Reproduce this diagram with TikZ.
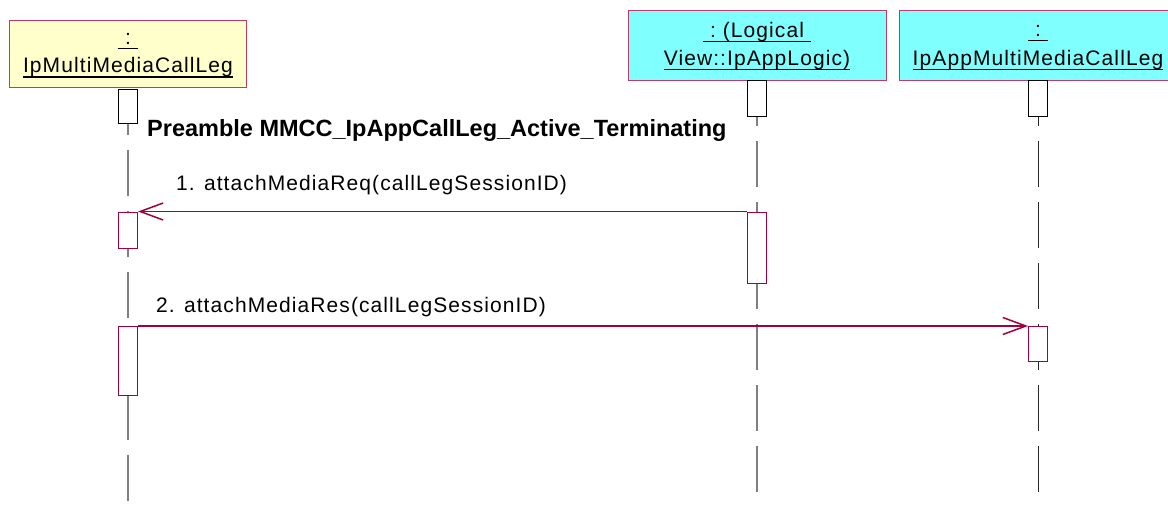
\documentclass[tikz,border=0pt]{standalone}
\usepackage{fontspec}
\setmainfont{Liberation Sans}[LetterSpace=5.2]
\newfontfamily\prefont{Liberation Sans}[LetterSpace=0]
\usetikzlibrary{arrows.meta}
\definecolor{boxborder}{RGB}{190,60,100}
\definecolor{objyellow}{RGB}{255,255,204}
\definecolor{objcyan}{RGB}{128,255,255}
\definecolor{msgred}{RGB}{160,0,64}
\definecolor{lifegrey}{RGB}{128,128,128}
\definecolor{lifedark}{RGB}{40,40,40}
\newcommand\ulin[1]{\setbox0\hbox{#1}\rlap{\rule[-4.7pt]{\wd0}{1.6pt}}\box0}
\tikzset{
  objbox/.style={draw=boxborder, line width=1pt, inner sep=0pt, anchor=north west},
  lbl/.style={inner sep=0pt, anchor=base, font=\fontsize{21}{25}\selectfont},
  msglbl/.style={inner sep=0pt, anchor=base west, font=\fontsize{21}{25}\selectfont},
  actbox/.style={draw=black, fill=white, line width=1pt, inner sep=0pt, anchor=north, minimum width=19pt},
  actred/.style={actbox, draw=msgred},
  lifeline/.style={draw=lifegrey, line width=1.3pt, dash pattern=on 46pt off 15pt},
  msg/.style={draw=msgred, line width=1.1pt, -{Straight Barb[length=23pt,width=17pt,line width=1.5pt]}},
}
\begin{document}
\begin{tikzpicture}[x=1pt,y=-1pt]
\useasboundingbox (0,0) rectangle (1168,508);
% object boxes
\node[objbox, fill=objyellow, minimum width=237pt, minimum height=67pt] (objA) at (9,20) {};
\node[objbox, fill=objcyan, minimum width=258pt, minimum height=70pt] (objB) at (628,10) {};
\node[objbox, fill=objcyan, minimum width=269pt, minimum height=70pt] (objC) at (899,10) {};
\node[lbl] (objAt1) at (128,44.5) {\ulin{~:~}};
\node[lbl] (objAt2) at (128,73) {\ulin{IpMultiMediaCallLeg}};
\node[lbl] (objBt1) at (757,37.5) {\ulin{~:~(Logical~}};
\node[lbl] (objBt2) at (757,65.5) {\ulin{View::IpAppLogic)}};
\node[lbl] (objCt1) at (1038,36.5) {\ulin{~:~}};
\node[lbl] (objCt2) at (1038,65.5) {\ulin{IpAppMultiMediaCallLeg}};
% lifeline ends
\coordinate (endA) at (128,508);
\coordinate (endB) at (757,492);
\coordinate (endC) at (1038,492);
\coordinate (startA) at (128,89);
\coordinate (startB) at (757,80);
\coordinate (startC) at (1038,80);
\draw[lifeline] (startA) -- (endA);
\draw[lifeline] (startB) -- (endB);
\draw[lifeline, draw=lifedark, line width=1pt] (startC) -- (endC);
% activations
\node[actbox, minimum height=34pt] (actA0) at (startA) {};
\node[actbox, minimum height=36pt] (actB0) at (startB) {};
\node[actbox, minimum height=36pt] (actC0) at (startC) {};
\node[actred, minimum height=36pt] (actA1) at (128,211.5) {};
\node[actred, minimum height=71pt] (actB1) at (757,211.5) {};
\node[actred, minimum height=69pt] (actA2) at (128,326) {};
\node[actred, minimum height=35pt] (actC1) at (1038,326) {};
% messages
\draw[msg] (actB1.north west) -- (actA1.north east);
\draw[msg] (actA2.north east) -- (actC1.north west);
% labels
\node[inner sep=0pt, anchor=base west, font=\prefont\bfseries\fontsize{23.5}{28}\selectfont] (pre) at (147,137) {Preamble MMCC\_IpAppCallLeg\_Active\_Terminating};
\node[msglbl] (m1) at (176,190.5) {1. attachMediaReq(callLegSessionID)};
\node[msglbl] (m2) at (156,312) {2. attachMediaRes(callLegSessionID)};
\end{tikzpicture}
\end{document}
